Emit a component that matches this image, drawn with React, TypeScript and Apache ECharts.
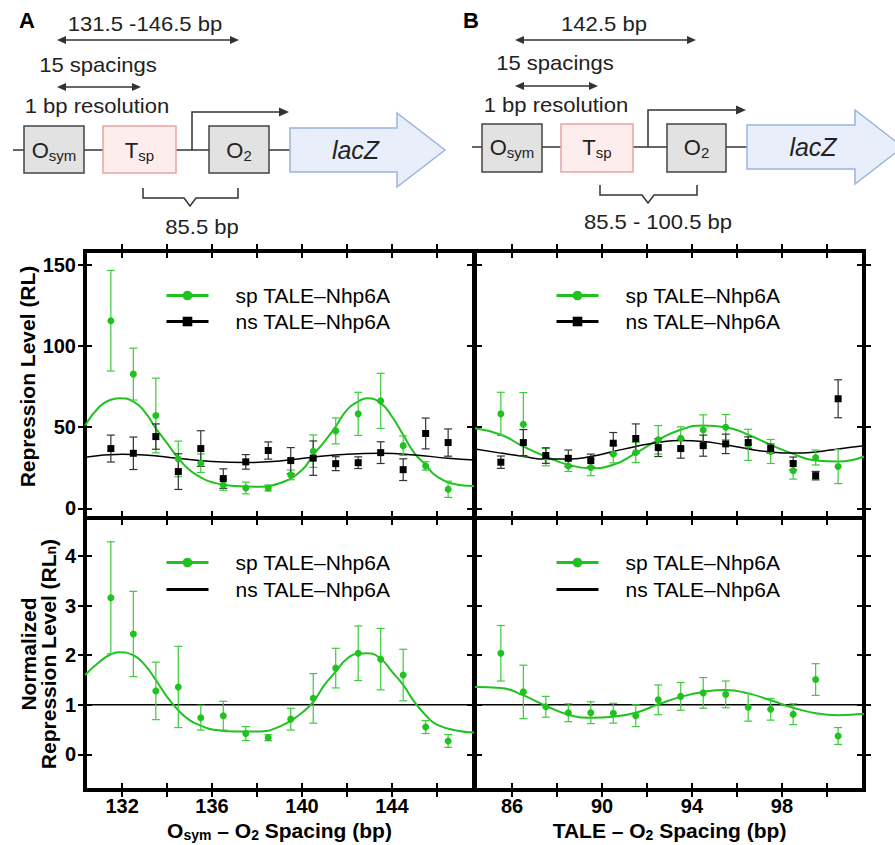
import React, { useEffect, useRef } from 'react';
import * as echarts from 'echarts';

// ---------- data ----------
const spacingA = [131.5, 132.5, 133.5, 134.5, 135.5, 136.5, 137.5, 138.5, 139.5, 140.5, 141.5, 142.5, 143.5, 144.5, 145.5, 146.5];
const spacingB = [85.5, 86.5, 87.5, 88.5, 89.5, 90.5, 91.5, 92.5, 93.5, 94.5, 95.5, 96.5, 97.5, 98.5, 99.5, 100.5];

const spRL_A = [115.6, 82.7, 57.2, 30.4, 27.8, 14.4, 12.5, 12.5, 20.6, 35.2, 47.7, 58.2, 66.2, 38.6, 26.1, 11.7];
const spRL_A_err = [31, 16, 23, 11, 5.7, 3.3, 3.6, 1.8, 3, 10, 8, 13.3, 17, 6, 2.6, 5];
const nsRL_A = [36.8, 33.9, 44.2, 22.6, 36.8, 18.3, 28.6, 35.6, 29.4, 30.9, 27.5, 28.1, 34.3, 23.8, 46.1, 40.5];
const nsRL_A_err = [8.3, 10, 7.8, 11, 11, 6, 4.5, 5.3, 8, 10.6, 4.3, 3.6, 6.7, 6.7, 9.5, 8.4];

const spRL_B = [58.2, 51.8, 31.5, 26.1, 25.1, 33.5, 34.4, 42.2, 43.2, 48.2, 50.0, 39.1, 35.0, 23.2, 31.3, 25.7];
const spRL_B_err = [13.3, 19.5, 5.3, 3.4, 5, 5.5, 6.2, 8.8, 7, 9.4, 7.8, 9.6, 7.4, 5.2, 4.6, 10.5];
const nsRL_B = [28.4, 40.5, 32.5, 30.8, 29.4, 40.1, 43.0, 37.4, 36.8, 38.6, 39.7, 40.5, 36.8, 27.6, 20.1, 67.5];
const nsRL_B_err = [3.8, 8, 4.8, 5.1, 4, 6.6, 9, 5.5, 5.9, 6.5, 6, 3.5, 2.8, 4, 2.6, 11.7];

const spRLn_A = [3.16, 2.43, 1.28, 1.36, 0.74, 0.78, 0.42, 0.335, 0.71, 1.13, 1.74, 2.04, 1.92, 1.6, 0.55, 0.27];
const spRLn_A_err = [1.13, 0.86, 0.58, 0.82, 0.25, 0.29, 0.14, 0.06, 0.22, 0.5, 0.4, 0.55, 0.62, 0.52, 0.13, 0.13];
const spRLn_B = [2.04, 1.26, 0.96, 0.84, 0.84, 0.83, 0.78, 1.1, 1.17, 1.24, 1.21, 0.95, 0.91, 0.81, 1.51, 0.37];
const spRLn_B_err = [0.56, 0.54, 0.21, 0.18, 0.22, 0.2, 0.22, 0.3, 0.28, 0.31, 0.27, 0.28, 0.22, 0.21, 0.32, 0.17];

// fitted curves: [spacing, value]
const spFitRL_A: number[][] = [[130.35, 51.0], [131.0, 62.7], [131.5, 66.9], [131.85, 67.9], [132.5, 65.8], [133.0, 59.6], [133.5, 49.3], [134.0, 40.1], [134.5, 30.8], [135.0, 23.6], [135.5, 19.1], [136.0, 16.0], [137.0, 13.7], [138.0, 13.3], [139.0, 15.4], [140.0, 23.6], [140.5, 32.9], [141.0, 41.1], [141.5, 50.4], [142.0, 60.7], [142.5, 65.8], [142.9, 67.9], [143.5, 64.8], [144.0, 56.6], [144.5, 45.3], [145.0, 34.0], [145.5, 26.8], [146.0, 19.6], [147.0, 14.4], [147.65, 13.7]];
const nsFitRL_A: number[][] = [[130.35, 31.5], [132, 33.3], [133, 32.9], [134.5, 30.8], [136, 28.8], [137.5, 28.2], [139, 29.2], [140.5, 31.5], [142, 33.3], [143.5, 33.9], [145, 32.9], [146.5, 30.8], [147.65, 29.8]];
const spFitRL_B: number[][] = [[84.35, 49.3], [85.5, 45.3], [86.5, 38.1], [87.5, 31.9], [88.5, 26.8], [89.5, 24.7], [90.5, 26.8], [91.5, 34.0], [92.5, 42.2], [93.5, 48.4], [94.5, 51.0], [95.5, 50.0], [96.5, 45.3], [97.5, 39.1], [98.5, 33.5], [99.5, 29.4], [100.5, 28.8], [101.65, 31.9]];
const nsFitRL_B: number[][] = [[84.35, 36.6], [85.5, 34.0], [86.5, 31.9], [87.5, 30.3], [88.5, 30.3], [89.5, 31.9], [90.5, 35.0], [91.5, 38.1], [92.5, 40.6], [93.5, 41.8], [94.5, 41.2], [95.5, 39.1], [96.5, 36.6], [97.5, 34.7], [98.5, 34.0], [99.5, 34.7], [100.5, 36.6], [101.65, 38.5]];
const spFitRLn_A: number[][] = [[130.35, 1.6], [131.0, 1.87], [131.5, 2.02], [131.85, 2.06], [132.5, 2.0], [133.0, 1.81], [133.5, 1.5], [134.0, 1.16], [134.5, 0.89], [135.0, 0.69], [135.5, 0.58], [136.0, 0.5], [137.0, 0.46], [138.0, 0.46], [139.0, 0.56], [140.0, 0.84], [140.5, 1.06], [141.0, 1.4], [141.5, 1.67], [142.0, 1.93], [142.5, 2.03], [142.9, 2.04], [143.5, 1.93], [144.0, 1.67], [144.5, 1.4], [145.0, 1.06], [145.5, 0.79], [146.0, 0.6], [147.0, 0.47], [147.65, 0.44]];
const spFitRLn_B: number[][] = [[84.35, 1.36], [85.5, 1.34], [86.5, 1.19], [87.5, 0.98], [88.5, 0.8], [89.5, 0.74], [90.5, 0.76], [91.5, 0.84], [92.5, 1.01], [93.5, 1.16], [94.5, 1.26], [95.5, 1.3], [96.5, 1.23], [97.5, 1.09], [98.5, 0.94], [99.5, 0.83], [100.5, 0.79], [101.65, 0.82]];
const nsRLnLevel = 1;

// ticks
const xTicksA = [132, 134, 136, 138, 140, 142, 144, 146];
const xLabelsA = [132, 136, 140, 144];
const xTicksB = [86, 88, 90, 92, 94, 96, 98, 100];
const xLabelsB = [86, 90, 94, 98];
const yTicksRL = [0, 50, 100, 150];
const yTicksRLn = [0, 1, 2, 3, 4];

const SP = 'sp TALE\u2013Nhp6A';
const NS = 'ns TALE\u2013Nhp6A';

// ---------- style ----------
const FONT = '"Liberation Sans", Arial, Helvetica, sans-serif';
const GREEN = '#1fc21f';
const GREEN_ERR = '#3ccb3c';
const BLACK_ERR = '#333333';
const INK = '#222222';

const subRich = {
  b: { fontSize: 21, fontWeight: 'bold', fontFamily: FONT, color: '#000', lineHeight: 24 },
  s: { fontSize: 14, fontWeight: 'bold', fontFamily: FONT, color: '#000', lineHeight: 12, verticalAlign: 'bottom' },
};

const panels = [
  { grid: { left: 85, top: 251, width: 389, height: 267 }, xMin: 130.35, xMax: 147.65, yMin: -6, yMax: 158.6, xTicks: xTicksA, xLabels: xLabelsA, yTicks: yTicksRL, showX: false, showY: true,
    yName: 'Repression Level (RL)', yGap: 54, yPad: [0, 0, 0, 16] },
  { grid: { left: 475, top: 251, width: 389, height: 267 }, xMin: 84.35, xMax: 101.65, yMin: -6, yMax: 158.6, xTicks: xTicksB, xLabels: xLabelsB, yTicks: yTicksRL, showX: false, showY: false },
  { grid: { left: 85, top: 518, width: 389, height: 272 }, xMin: 130.35, xMax: 147.65, yMin: -0.72, yMax: 4.77, xTicks: xTicksA, xLabels: xLabelsA, yTicks: yTicksRLn, showX: true, showY: true,
    xName: '{b|O}{s|sym}{b| \u2013 O}{s|2}{b| Spacing (bp)}',
    yName: '{b|Normalized}\n{b|Repression Level (RL}{s|n}{b|)}', yGap: 34, yPad: [0, 0, 0, 0] },
  { grid: { left: 475, top: 518, width: 389, height: 272 }, xMin: 84.35, xMax: 101.65, yMin: -0.72, yMax: 4.77, xTicks: xTicksB, xLabels: xLabelsB, yTicks: yTicksRLn, showX: true, showY: false,
    xName: '{b|TALE \u2013 O}{s|2}{b| Spacing (bp)}' },
];

const tickStyle = { color: '#000', width: 2 };
const labelStyle = { fontSize: 20, fontWeight: 'bold', color: '#000', fontFamily: FONT };

function buildAxes() {
  const xAxis: any[] = [];
  const yAxis: any[] = [];
  panels.forEach((p: any, i) => {
    ['bottom', 'top'].forEach((pos) => {
      const main = pos === 'bottom';
      xAxis.push({
        type: 'value', gridIndex: i, position: pos, min: p.xMin, max: p.xMax, offset: -7,
        axisLine: { show: false, onZero: false }, splitLine: { show: false },
        axisTick: { show: true, customValues: p.xTicks, length: 14, lineStyle: tickStyle },
        axisLabel: { show: main && p.showX, customValues: p.xLabels, margin: 13, ...labelStyle },
        name: main && p.xName ? p.xName : '', nameLocation: 'middle', nameGap: 35,
        nameTextStyle: { rich: subRich },
      });
    });
    ['left', 'right'].forEach((pos) => {
      const main = pos === 'left';
      yAxis.push({
        type: 'value', gridIndex: i, position: pos, min: p.yMin, max: p.yMax, offset: -7,
        axisLine: { show: false, onZero: false }, splitLine: { show: false },
        axisTick: { show: true, customValues: p.yTicks, length: 14, lineStyle: tickStyle },
        axisLabel: { show: main && p.showY, customValues: p.yTicks, margin: 16, ...labelStyle },
        name: main && p.yName ? p.yName : '', nameLocation: 'middle', nameRotate: 90, nameGap: p.yGap || 40,
        nameTextStyle: { fontSize: 21, fontWeight: 'bold', fontFamily: FONT, color: '#000', padding: p.yPad || 0, rich: { ...subRich, b: { ...subRich.b, lineHeight: 20 } } },
      });
    });
  });
  return { xAxis, yAxis };
}

function pts(xs: number[], vs: number[]) { return xs.map((x, k) => [x, vs[k]]); }
function errs(xs: number[], vs: number[], es: number[]) { return xs.map((x, k) => [x, vs[k] - es[k], vs[k] + es[k]]); }

function fitSeries(name: string, data: number[][], color: string, width: number, symbol: string, ax: number) {
  return { type: 'line', name, xAxisIndex: ax, yAxisIndex: ax, data, smooth: 0.5, symbol, symbolSize: 9, showSymbol: false,
    lineStyle: { color, width }, itemStyle: { color }, z: 2, silent: true };
}
function errSeries(name: string, data: number[][], color: string, ax: number) {
  return {
    type: 'custom', name, xAxisIndex: ax, yAxisIndex: ax, data, encode: { x: 0, y: [1, 2] }, z: 3, silent: true,
    renderItem: (_p: any, api: any) => {
      const x = api.value(0), lo = api.value(1), hi = api.value(2);
      const t = api.coord([x, hi]);
      const b = api.coord([x, lo]);
      const c = 4;
      const st = { stroke: color, lineWidth: 1.2 };
      return {
        type: 'group', children: [
          { type: 'line', shape: { x1: t[0], y1: t[1], x2: b[0], y2: b[1] }, style: st },
          { type: 'line', shape: { x1: t[0] - c, y1: t[1], x2: t[0] + c, y2: t[1] }, style: st },
          { type: 'line', shape: { x1: b[0] - c, y1: b[1], x2: b[0] + c, y2: b[1] }, style: st },
        ],
      };
    },
  };
}
function ptSeries(name: string, data: number[][], color: string, symbol: string, size: number, ax: number) {
  return { type: 'scatter', name, xAxisIndex: ax, yAxisIndex: ax, data, symbol, symbolSize: size, itemStyle: { color, opacity: 1 }, z: 4, silent: true };
}

function buildSeries() {
  const s: any[] = [];
  // panel 0: A, RL
  s.push(fitSeries(SP, spFitRL_A, GREEN, 2, 'circle', 0));
  s.push(fitSeries(NS, nsFitRL_A, '#000', 1.5, 'rect', 0));
  s.push(errSeries('sp err A', errs(spacingA, spRL_A, spRL_A_err), GREEN_ERR, 0));
  s.push(errSeries('ns err A', errs(spacingA, nsRL_A, nsRL_A_err), BLACK_ERR, 0));
  s.push(ptSeries('sp RL A', pts(spacingA, spRL_A), GREEN, 'circle', 7, 0));
  s.push(ptSeries('ns RL A', pts(spacingA, nsRL_A), '#000', 'rect', 7, 0));
  // panel 1: B, RL
  s.push(fitSeries(SP, spFitRL_B, GREEN, 2, 'circle', 2));
  s.push(fitSeries(NS, nsFitRL_B, '#000', 1.5, 'rect', 2));
  s.push(errSeries('sp err B', errs(spacingB, spRL_B, spRL_B_err), GREEN_ERR, 2));
  s.push(errSeries('ns err B', errs(spacingB, nsRL_B, nsRL_B_err), BLACK_ERR, 2));
  s.push(ptSeries('sp RL B', pts(spacingB, spRL_B), GREEN, 'circle', 7, 2));
  s.push(ptSeries('ns RL B', pts(spacingB, nsRL_B), '#000', 'rect', 7, 2));
  // panel 2: A, RLn
  s.push(fitSeries(NS, [[panels[2].xMin, nsRLnLevel], [panels[2].xMax, nsRLnLevel]], '#000', 1.5, 'none', 4));
  s.push(fitSeries(SP, spFitRLn_A, GREEN, 2, 'circle', 4));
  s.push(errSeries('sp err An', errs(spacingA, spRLn_A, spRLn_A_err), GREEN_ERR, 4));
  s.push(ptSeries('sp RLn A', pts(spacingA, spRLn_A), GREEN, 'circle', 7, 4));
  // panel 3: B, RLn
  s.push(fitSeries(NS, [[panels[3].xMin, nsRLnLevel], [panels[3].xMax, nsRLnLevel]], '#000', 1.5, 'none', 6));
  s.push(fitSeries(SP, spFitRLn_B, GREEN, 2, 'circle', 6));
  s.push(errSeries('sp err Bn', errs(spacingB, spRLn_B, spRLn_B_err), GREEN_ERR, 6));
  s.push(ptSeries('sp RLn B', pts(spacingB, spRLn_B), GREEN, 'circle', 7, 6));
  return s;
}

function legend(left: number, top: number, gap: number, lineOnlyNs: boolean) {
  return {
    left, top, orient: 'vertical', padding: 0, itemGap: gap, itemWidth: 42, itemHeight: 12, selectedMode: false,
    data: [{ name: SP }, lineOnlyNs ? { name: NS, icon: 'path://M0,0H42V3H0Z' } : { name: NS }],
    lineStyle: { width: 3 },
    textStyle: { fontSize: 21, color: '#000', fontFamily: FONT, lineHeight: 20, padding: [0, 0, 0, 22] },
  };
}

// ---------- schematic (graphic) ----------
const LINE = '#333333';
function txt(x: number, y: number, text: string, size = 21, extra: any = {}, sx = 1.05) {
  return { type: 'text', x, y, scaleX: sx, style: { text, fontSize: size, fontFamily: FONT, fill: INK, align: 'center', verticalAlign: 'middle', ...extra } };
}
function dblArrow(x1: number, x2: number, y: number) {
  return [
    { type: 'line', shape: { x1: x1 + 6, y1: y, x2: x2 - 6, y2: y }, style: { stroke: LINE, lineWidth: 1.5 } },
    { type: 'polygon', shape: { points: [[x1, y], [x1 + 9, y - 4], [x1 + 9, y + 4]] }, style: { fill: LINE } },
    { type: 'polygon', shape: { points: [[x2, y], [x2 - 9, y - 4], [x2 - 9, y + 4]] }, style: { fill: LINE } },
  ];
}
function box(x: number, y: number, w: number, h: number, fill: string, stroke: string) {
  return { type: 'rect', shape: { x, y, width: w, height: h }, style: { fill, stroke, lineWidth: 1.5 } };
}
const boxRich = { m: { fontSize: 22, fontFamily: FONT, fill: INK, lineHeight: 26 }, s: { fontSize: 15, fontFamily: FONT, fill: INK, lineHeight: 14, verticalAlign: 'bottom' } };
function boxText(x: number, y: number, main: string, sub: string) {
  return { type: 'text', x, y, style: { text: `{m|${main}}{s|${sub}}`, rich: boxRich, align: 'center', verticalAlign: 'middle' } };
}
function schematic(o: any) {
  const { dx, by, top, bot, osym, tsp, o2, prom, lac, lacEnd, tip, brace, braceText, label, title, arrow1, arrow2, t15, t1bp } = o;
  const els: any[] = [];
  els.push(txt(label[0], label[1], label[2], 22, { fontWeight: 'bold', fill: '#000' }, 1));
  els.push(txt(title[0], title[1], title[2]));
  els.push(...dblArrow(arrow1[0], arrow1[1], arrow1[2]));
  els.push(txt(t15[0], t15[1], '15 spacings'));
  els.push(...dblArrow(arrow2[0], arrow2[1], arrow2[2]));
  els.push(txt(t1bp[0], t1bp[1], '1 bp resolution'));
  els.push({ type: 'line', shape: { x1: dx, y1: by, x2: lac, y2: by }, style: { stroke: LINE, lineWidth: 1.5 } });
  els.push(box(osym[0], top, osym[1] - osym[0], bot - top, '#e2e2e2', '#444'));
  els.push(boxText((osym[0] + osym[1]) / 2, by, 'O', 'sym'));
  els.push(box(tsp[0], top, tsp[1] - tsp[0], bot - top, '#fdeded', '#e8a3a3'));
  els.push(boxText((tsp[0] + tsp[1]) / 2, by, 'T', 'sp'));
  els.push(box(o2[0], top, o2[1] - o2[0], bot - top, '#e2e2e2', '#444'));
  els.push(boxText((o2[0] + o2[1]) / 2, by, 'O', '2'));
  els.push({ type: 'polyline', shape: { points: [[prom[0], by], [prom[0], prom[1]], [prom[2] - 8, prom[1]]] }, style: { stroke: LINE, lineWidth: 1.5, fill: 'none' } });
  els.push({ type: 'polygon', shape: { points: [[prom[2], prom[1]], [prom[2] - 10, prom[1] - 4.5], [prom[2] - 10, prom[1] + 4.5]] }, style: { fill: LINE } });
  els.push({ type: 'polygon', shape: { points: [[lac, by - 22], [lacEnd, by - 22], [lacEnd, by - 37], [tip, by], [lacEnd, by + 37], [lacEnd, by + 22], [lac, by + 22]] }, style: { fill: '#e8effa', stroke: '#9cb4dd', lineWidth: 1.5 } });
  els.push(txt((lac + lacEnd) / 2 + 12, by, 'lacZ', 25, { fontStyle: 'italic' }, 1));
  const [bx1, bx2, bmid, by1] = brace;
  els.push({ type: 'polyline', shape: { points: [[bx1, by1], [bx1, by1 + 10], [bmid - 6, by1 + 10], [bmid, by1 + 18], [bmid + 6, by1 + 10], [bx2, by1 + 10], [bx2, by1]] }, style: { stroke: LINE, lineWidth: 1.5, fill: 'none' } });
  els.push(txt(braceText[0], braceText[1], braceText[2]));
  return els;
}

const graphicEls = [
  ...schematic({ dx: 13, by: 150, top: 126, bot: 173, osym: [24, 84], tsp: [103, 176], o2: [209, 269], prom: [192, 112, 289], lac: 290, lacEnd: 397, tip: 445,
    brace: [143, 238, 190, 188], braceText: [202, 227, '85.5 bp'], label: [27, 20, 'A'], title: [145, 24, '131.5 -146.5 bp'],
    arrow1: [57, 239, 40], arrow2: [57, 141, 87], t15: [98, 65], t1bp: [97, 106] }),
  ...schematic({ dx: 472, by: 147, top: 124, bot: 172, osym: [482, 542], tsp: [561, 633], o2: [667, 726], prom: [648, 110, 746], lac: 747, lacEnd: 855, tip: 903,
    brace: [600, 697, 648, 185], braceText: [658, 222, '85.5 - 100.5 bp'], label: [471, 20, 'B'], title: [604, 24, '142.5 bp'],
    arrow1: [515, 696, 40], arrow2: [515, 598, 86], t15: [555, 63], t1bp: [556, 105] }),
];

function buildOption() {
  const { xAxis, yAxis } = buildAxes();
  return {
    animation: false,
    backgroundColor: '#ffffff',
    textStyle: { fontFamily: FONT },
    grid: panels.map((p) => ({ ...p.grid, show: true, borderColor: '#000', borderWidth: 4, backgroundColor: 'transparent', containLabel: false })),
    xAxis, yAxis,
    legend: [legend(165, 285, 5, false), legend(555, 285, 5, false), legend(165, 552, 6, true), legend(555, 552, 6, true)],
    series: buildSeries(),
    graphic: graphicEls,
  };
}

export default function App() {
  const ref = useRef<HTMLDivElement>(null);
  useEffect(() => {
    document.body.style.margin = '0';
    const chart = echarts.init(ref.current as HTMLDivElement, null, { renderer: 'svg' });
    chart.setOption(buildOption() as any);
    return () => chart.dispose();
  }, []);
  return <div ref={ref} style={{ width: 895, height: 845, position: 'absolute', left: 0, top: 0, background: '#fff' }} />;
}
